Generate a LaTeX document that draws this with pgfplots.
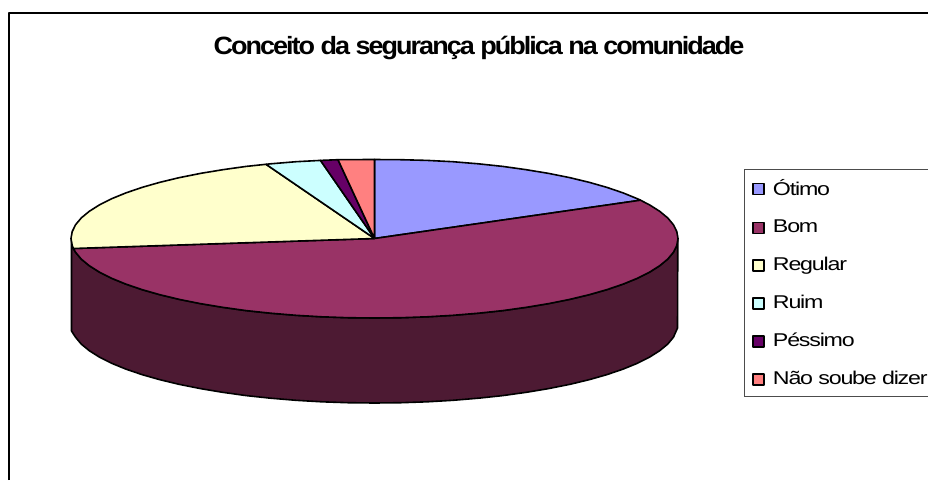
\documentclass[border=0pt]{standalone}
\usepackage{pgfplots}
\pgfplotsset{compat=1.18}
\usepackage{fontspec}
\setmainfont{Liberation Sans}
\definecolor{otimo}{HTML}{9999FF}
\definecolor{bom}{HTML}{993366}
\definecolor{bomside}{HTML}{4D1A33}
\definecolor{regular}{HTML}{FFFFCC}
\definecolor{ruim}{HTML}{CCFFFF}
\definecolor{pessimo}{HTML}{660066}
\definecolor{naosoube}{HTML}{FF8080}
\begin{document}
\begin{tikzpicture}[x=1pt,y=1pt]
\useasboundingbox (0,0) rectangle (928,480);
\begin{axis}[
  at={(0,0)}, anchor=south west,
  scale only axis, width=928pt, height=480pt,
  xmin=0, xmax=928, ymin=0, ymax=480, y dir=reverse,
  hide axis, clip=false,
  title={\bfseries\addfontfeatures{LetterSpace=-8,FakeStretch=1.08}Conceito da segurança pública na comunidade},
  title style={at={(axis cs:479,54)}, anchor=center, font=\fontsize{25}{28}\selectfont, inner sep=0pt},
  legend style={at={(axis cs:744,169)}, anchor=north west, draw=black!70, line width=0.9pt,
    fill=white, inner xsep=8pt, inner ysep=8pt,
    font=\fontsize{18.5}{21}\selectfont\addfontfeatures{LetterSpace=-6.5,FakeStretch=1.255},
    row sep=19pt,
    cells={anchor=west}},
  % the invisible point keeps the gap between swatch and text
  legend image code/.code={\draw[#1, draw=black, line width=1.4pt] (0pt,-6.5pt) rectangle (11pt,4.5pt); \path (17pt,0pt);},
  every axis plot/.append style={draw=black, line width=1.6pt, line join=round},
]
% Outer chart frame, cut off by the page on the right and at the bottom
\addplot[forget plot, draw=black, line width=1.3pt] coordinates {(9,480) (9,13) (928,13)};
% Rim of the disc (front half, 85 units deep)
\addplot[forget plot, fill=bomside] coordinates {
  (71.5,238.5) (71.5,331.0) (75.6,337.3) (81.3,344.1) (89.3,350.7) (99.4,357.1)
  (111.7,363.3) (125.9,369.1) (142.0,374.6) (159.9,379.7) (179.4,384.4) (200.4,388.6)
  (222.7,392.3) (246.2,395.6) (270.7,398.2) (296.0,400.3) (321.8,401.8) (348.0,402.7)
  (374.5,403.0) (401.0,402.7) (427.2,401.8) (453.0,400.3) (478.3,398.2) (502.8,395.6)
  (526.3,392.3) (548.6,388.6) (569.6,384.4) (589.1,379.7) (607.0,374.6) (623.1,369.1)
  (637.3,363.3) (649.6,357.1) (659.7,350.7) (667.7,344.1) (673.4,337.3) (677.5,328.0)
  (677.8,238.5) (676.8,245.4) (673.4,252.3) (667.7,259.1) (659.7,265.7)
  (649.6,272.1) (637.3,278.3) (623.1,284.1) (607.0,289.6) (589.1,294.7) (569.6,299.4)
  (548.6,303.6) (526.3,307.3) (502.8,310.6) (478.3,313.2) (453.0,315.3) (427.2,316.8)
  (401.0,317.7) (374.5,318.0) (348.0,317.7) (321.8,316.8) (296.0,315.3) (270.7,313.2)
  (246.2,310.6) (222.7,307.3) (200.4,303.6) (179.4,299.4) (159.9,294.7) (142.0,289.6)
  (125.9,284.1) (111.7,278.3) (99.4,272.1) (89.3,265.7) (81.3,259.1) (75.6,252.3)
  (73.4,248.5) (72.2,245.4) (71.5,238.5)};
% Top face: one wedge per answer, 17, 56, 21, 3, 1 and 2 percent clockwise from the top
\addplot[fill=otimo] coordinates {
  (374.5,238.5) (374.5,159.5) (401.0,159.7) (427.2,160.4) (453.0,161.7) (478.3,163.8)
  (502.8,166.4) (526.3,169.7) (548.6,173.4) (569.6,177.6) (589.1,182.3) (607.0,187.4)
  (623.1,192.9) (637.3,198.7) (640.5,200.2) (374.5,238.5)};
\addlegendentry{Ótimo}
\addplot[fill=bom] coordinates {
  (374.5,238.5) (640.5,200.2) (649.6,204.9) (659.7,211.3) (667.7,217.9) (673.4,224.7)
  (676.8,231.6) (678.0,238.5) (676.8,245.4) (673.4,252.3) (667.7,259.1) (659.7,265.7)
  (649.6,272.1) (637.3,278.3) (623.1,284.1) (607.0,289.6) (589.1,294.7) (569.6,299.4)
  (548.6,303.6) (526.3,307.3) (502.8,310.6) (478.3,313.2) (453.0,315.3) (427.2,316.8)
  (401.0,317.7) (374.5,318.0) (348.0,317.7) (321.8,316.8) (296.0,315.3) (270.7,313.2)
  (246.2,310.6) (222.7,307.3) (200.4,303.6) (179.4,299.4) (159.9,294.7) (142.0,289.6)
  (125.9,284.1) (111.7,278.3) (99.4,272.1) (89.3,265.7) (81.3,259.1) (75.6,252.3)
  (73.4,248.5) (374.5,238.5)};
\addlegendentry{Bom}
\addplot[fill=regular] coordinates {
  (374.5,238.5) (73.4,248.5) (72.2,245.4) (71.0,238.5) (72.2,231.6) (75.6,224.7) (81.3,217.9)
  (89.3,211.3) (99.4,204.9) (111.7,198.7) (125.9,192.9) (142.0,187.4) (159.9,182.3)
  (179.4,177.6) (200.4,173.4) (222.7,169.7) (246.2,166.4) (266.0,164.3) (374.5,238.5)};
\addlegendentry{Regular}
\addplot[fill=ruim] coordinates {
  (374.5,238.5) (266.0,164.3) (270.7,163.8) (296.0,161.7) (320.5,160.4) (374.5,238.5)};
\addlegendentry{Ruim}
\addplot[fill=pessimo] coordinates {
  (374.5,238.5) (320.5,160.4) (338.0,159.7) (374.5,238.5)};
\addlegendentry{Péssimo}
\addplot[fill=naosoube] coordinates {
  (374.5,238.5) (338.0,159.7) (348.0,159.6) (374.5,159.5) (374.5,238.5)};
\addlegendentry{Não soube dizer}
\end{axis}
\end{tikzpicture}
\end{document}
